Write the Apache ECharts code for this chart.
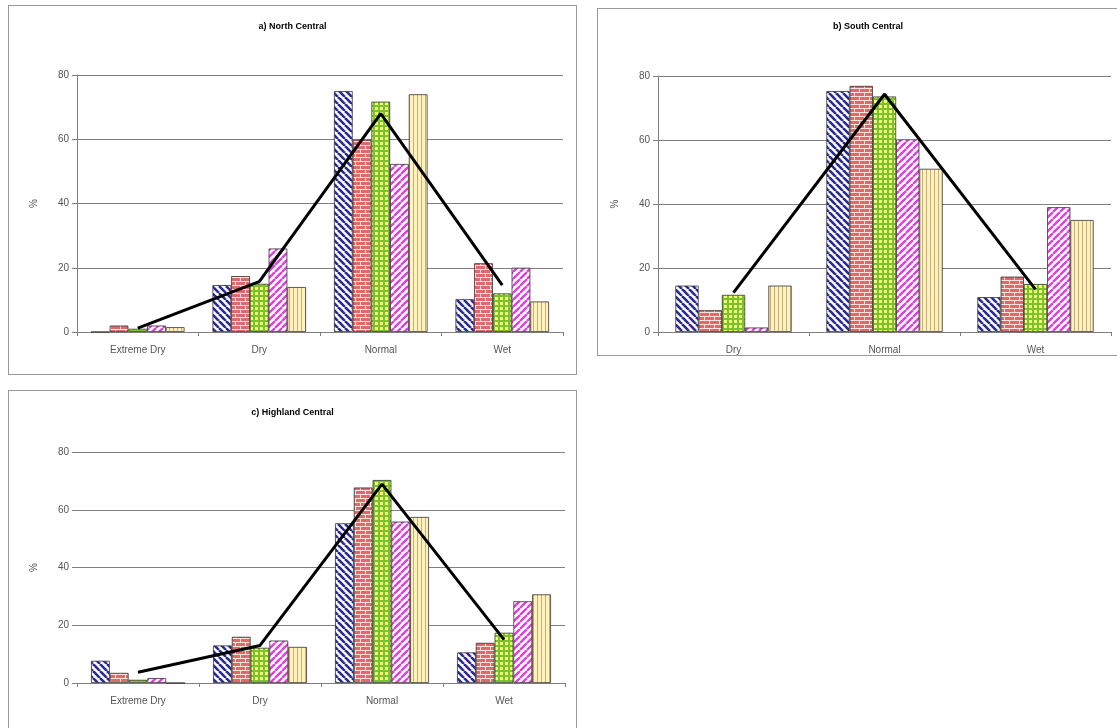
<!DOCTYPE html>
<html>
<head>
<meta charset="utf-8">
<script src="https://cdn.jsdelivr.net/npm/echarts@6/dist/echarts.min.js"></script>
<style>
  html, body { margin: 0; padding: 0; background: #fff; overflow: hidden; width: 1117px; height: 728px; }
  .panel { position: absolute; border: 1px solid #999; background: #fff; }
</style>
</head>
<body>
<div id="a" class="panel" style="left:8px;top:5px;width:567px;height:368px;"></div>
<div id="b" class="panel" style="left:597px;top:8px;width:540px;height:346px;"></div>
<div id="c" class="panel" style="left:8px;top:390px;width:567px;height:350px;"></div>
<script>
// categories
const catsFour = ['Extreme Dry', 'Dry', 'Normal', 'Wet'];
const catsThree = ['Dry', 'Normal', 'Wet'];
const yTicks = [0, 20, 40, 60, 80];

// a) North Central
const aBlue = [0, 14.6, 75, 10.2];
const aRed = [2, 17.4, 59.8, 21.4];
const aGreen = [1, 15, 71.7, 12];
const aPink = [2, 26, 52.3, 20];
const aTan = [1.5, 14, 74, 9.5];
const aLine = [1.2, 15.7, 68, 14.6];

// b) South Central
const bBlue = [14.5, 75.3, 10.9];
const bRed = [6.8, 76.9, 17.3];
const bGreen = [11.6, 73.6, 15];
const bPink = [1.4, 60.2, 39];
const bTan = [14.5, 51, 35];
const bLine = [12.3, 74.3, 13.3];

// c) Highland Central
const cBlue = [7.7, 13, 55.3, 10.6];
const cRed = [3.5, 16, 67.7, 13.9];
const cGreen = [1.1, 12.2, 70.3, 17.4];
const cPink = [1.7, 14.7, 55.9, 28.3];
const cTan = [0, 12.5, 57.5, 30.7];
const cLine = [3.7, 13, 68.9, 15];

// fill patterns, drawn on small canvases
function tile(w, h, draw) {
    let cv = document.createElement('canvas');
    cv.width = w; cv.height = h;
    draw(cv.getContext('2d'));
    return { image: cv, repeat: 'repeat' };
}
const patBlue = tile(7, 7, function(g){
    g.fillStyle = '#fff'; g.fillRect(0, 0, 7, 7);
    g.strokeStyle = '#2a2a96'; g.lineWidth = 2.6;
    [-7, 0, 7].forEach(function(k){ g.beginPath(); g.moveTo(k, 0); g.lineTo(k + 7, 7); g.stroke(); });
});
const patPink = tile(7, 7, function(g){
    g.fillStyle = '#fff'; g.fillRect(0, 0, 7, 7);
    g.strokeStyle = '#e03ee0'; g.lineWidth = 2.4;
    [-7, 0, 7].forEach(function(k){ g.beginPath(); g.moveTo(k, 7); g.lineTo(k + 7, 0); g.stroke(); });
});
const patRed = tile(10, 8, function(g){
    g.fillStyle = '#e06a6a'; g.fillRect(0, 0, 10, 8);
    g.fillStyle = '#ffe2e2';
    g.fillRect(0, 3, 10, 1); g.fillRect(0, 7, 10, 1);
    g.fillRect(1, 0, 1, 3); g.fillRect(6, 4, 1, 3);
});
const patGreen = tile(5, 5, function(g){
    g.fillStyle = '#7cc22e'; g.fillRect(0, 0, 5, 5);
    g.fillStyle = '#f0ff78'; g.fillRect(1, 1, 3, 3);
});
const patTan = tile(4, 2, function(g){
    g.fillStyle = '#fff2c2'; g.fillRect(0, 0, 4, 2);
    g.fillStyle = '#cfae6c'; g.fillRect(0, 0, 1, 2);
});

const labelFont = { fontSize: 10, color: '#555', fontFamily: 'Liberation Sans, Arial, sans-serif' };

function makeChart(id, title, titleTop, grid, cats, bars, line, showYLine) {
    let chart = echarts.init(document.getElementById(id));
    let pats = [patBlue, patRed, patGreen, patPink, patTan];
    let series = bars.map(function(d, i){
        return {
            type: 'bar', data: d, barGap: '0%', barCategoryGap: '23%',
            itemStyle: { color: pats[i], borderColor: '#333', borderWidth: 0.8 },
            silent: true
        };
    });
    series.push({
        type: 'line', data: line, symbol: 'none', z: 10,
        lineStyle: { color: '#000', width: 3 }
    });
    chart.setOption({
        animation: false,
        title: {
            text: title, left: 'center', top: titleTop,
            textStyle: { fontSize: 9, fontWeight: 'bold', color: '#000', fontFamily: 'Liberation Sans, Arial, sans-serif' }
        },
        grid: grid,
        xAxis: {
            type: 'category', data: cats,
            axisLine: { lineStyle: { color: '#808080' } },
            axisTick: { show: true, length: 4, lineStyle: { color: '#808080' } },
            axisLabel: Object.assign({ margin: 13 }, labelFont)
        },
        yAxis: {
            type: 'value', min: yTicks[0], max: yTicks[yTicks.length - 1], interval: 20,
            name: '%', nameLocation: 'middle', nameRotate: 90, nameGap: 38,
            nameTextStyle: labelFont,
            axisLine: { show: showYLine, lineStyle: { color: '#808080' } },
            axisTick: { show: true, length: 5, lineStyle: { color: '#808080' } },
            axisLabel: Object.assign({ margin: 8 }, labelFont),
            splitLine: { lineStyle: { color: '#808080', width: 1 } }
        },
        series: series
    });
}

makeChart('a', 'a) North Central', 11, { left: 68, top: 69, width: 486, height: 257 },
    catsFour, [aBlue, aRed, aGreen, aPink, aTan], aLine, true);
makeChart('b', 'b) South Central', 8, { left: 60, top: 67, width: 453, height: 257 },
    catsThree, [bBlue, bRed, bGreen, bPink, bTan], bLine, true);
makeChart('c', 'c) Highland Central', 12, { left: 68, top: 61, width: 488, height: 231 },
    catsFour, [cBlue, cRed, cGreen, cPink, cTan], cLine, false);
</script>
</body>
</html>
